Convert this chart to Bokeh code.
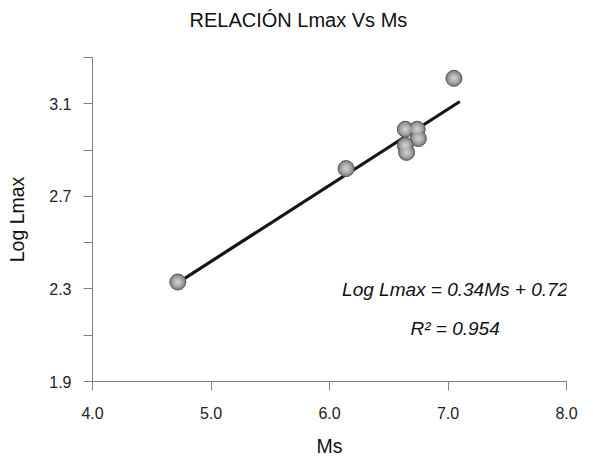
from bokeh.plotting import figure
from bokeh.models import FixedTicker, Label, Range1d, Title
from bokeh.embed import file_html
from bokeh.resources import INLINE

# ---- data ----
ms = [4.72, 6.14, 6.64, 6.74, 6.75, 6.64, 6.65, 7.05]
log_lmax = [2.33, 2.82, 2.99, 2.99, 2.95, 2.92, 2.89, 3.21]
fit_x = [4.70, 7.10]
fit_y = [2.32, 3.11]
x_ticks = [4.0, 5.0, 6.0, 7.0, 8.0]
x_tick_labels = ["4.0", "5.0", "6.0", "7.0", "8.0"]
y_ticks = [1.9, 2.1, 2.3, 2.5, 2.7, 2.9, 3.1, 3.3]
y_tick_labels = ["1.9", "", "2.3", "", "2.7", "", "3.1", ""]
title_text = "RELACIÓN Lmax Vs Ms"
x_title = "Ms"
y_title = "Log Lmax"
eq_text = "Log Lmax = 0.34Ms + 0.72"
r2_text = "R² = 0.954"
eq_pos = (7.06, 2.297)
r2_pos = (7.06, 2.129)

FONT = "Liberation Sans"
AXIS_COL = "#808080"

p = figure(width=593, height=460, output_backend="svg", toolbar_location=None,
           x_range=Range1d(4.0, 8.0), y_range=Range1d(1.9, 3.3),
           min_border_left=92, min_border_right=27, min_border_top=57, min_border_bottom=79)
p.outline_line_color = None
p.xgrid.visible = False
p.ygrid.visible = False
p.background_fill_color = "white"
p.border_fill_color = "white"

# axes
for ax in (p.xaxis[0], p.yaxis[0]):
    ax.axis_line_color = AXIS_COL
    ax.major_tick_line_color = AXIS_COL
    ax.minor_tick_line_color = None
    ax.major_tick_in = 0
    ax.major_tick_out = 9
    ax.major_label_text_font = FONT
    ax.major_label_text_font_size = "16px"
    ax.major_label_text_color = "#222222"
    ax.axis_label_text_font = FONT
    ax.axis_label_text_font_style = "normal"
    ax.axis_label_text_font_size = "19.5px"
    ax.axis_label_text_color = "#111111"

p.xaxis[0].ticker = FixedTicker(ticks=x_ticks)
p.xaxis[0].major_label_overrides = {t: l for t, l in zip(x_ticks, x_tick_labels)}
p.xaxis[0].axis_label = x_title
p.xaxis[0].major_label_standoff = 16
p.xaxis[0].axis_label_standoff = 13

p.yaxis[0].ticker = FixedTicker(ticks=y_ticks)
p.yaxis[0].major_label_overrides = {t: l for t, l in zip(y_ticks, y_tick_labels)}
p.yaxis[0].axis_label = y_title
p.yaxis[0].major_label_standoff = 12
p.yaxis[0].axis_label_standoff = 18

# title: a thin spacer title next to the frame, then the real title above it
p.title.text = ""
p.add_layout(Title(text=" ", text_font_size="1px", standoff=21), "above")
p.add_layout(Title(text=title_text, align="left", offset=97, text_font=FONT, standoff=6,
                   text_font_style="normal", text_font_size="20px", text_color="#111111"), "above")

# regression line
p.line(fit_x, fit_y, line_color="#151515", line_width=3.2)

# shaded spheres (layered circles to mimic a gradient)
p.scatter(ms, log_lmax, size=16, marker="circle", fill_color="#8a8a8a", line_color="#555555", line_width=1)
p.scatter(ms, log_lmax, size=12, marker="circle", fill_color="#a2a2a2", line_color=None)
p.scatter(ms, log_lmax, size=8, marker="circle", fill_color="#b8b8b8", line_color=None)
p.scatter(ms, log_lmax, size=4, marker="circle", fill_color="#cbcbcb", line_color=None)

# equation labels
for txt, (lx, ly) in ((eq_text, eq_pos), (r2_text, r2_pos)):
    p.add_layout(Label(x=lx, y=ly, text=txt, text_align="center", text_baseline="alphabetic",
                       text_font=FONT, text_font_style="italic", text_font_size="19px",
                       text_color="#111111"))

open("out.html", "w").write(file_html(p, INLINE))
